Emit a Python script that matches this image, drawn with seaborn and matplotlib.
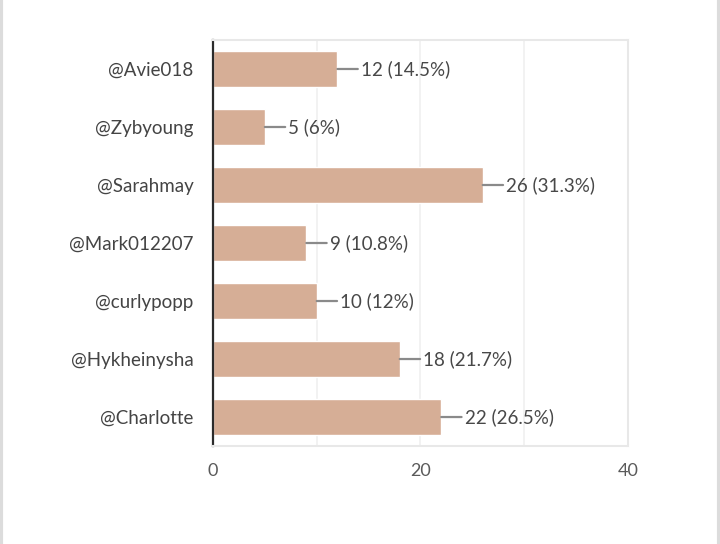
import matplotlib
matplotlib.use("Agg")
import matplotlib.pyplot as plt
import seaborn as sns
import pandas as pd
from matplotlib.lines import Line2D

# data
names = ["@Avie018", "@Zybyoung", "@Sarahmay", "@Mark012207",
         "@curlypopp", "@Hykheinysha", "@Charlotte"]
counts = [12, 5, 26, 9, 10, 18, 22]
pct_labels = ["14.5%", "6%", "31.3%", "10.8%", "12%", "21.7%", "26.5%"]
x_ticks = [0, 20, 40]

df = pd.DataFrame({"name": names, "count": counts})

sns.set_theme(style="white")
plt.rcParams["font.family"] = ["Lato", "DejaVu Sans"]

fig = plt.figure(figsize=(7.2, 5.44), dpi=100)
ax = fig.add_axes([0.2958, 0.1801, 0.5764, 0.7464])

sns.barplot(data=df, x="count", y="name", orient="h", color="#d6ae96",
            saturation=1, width=0.62, ax=ax)

# value labels with a short grey leader line
for i, (c, p) in enumerate(zip(counts, pct_labels)):
    ax.annotate(f"{c} ({p})", xy=(c, i), xytext=(17, 0), textcoords="offset points",
                ha="left", va="center", fontsize=13.5, color="#484848",
                arrowprops=dict(arrowstyle="-", color="#8a8a8a", lw=1.6,
                                shrinkA=0, shrinkB=0, relpos=(0, 0.5)))

ax.set_xlim(0, 40)
ax.set_ylim(6.5, -0.5)
ax.set_xticks(x_ticks)
ax.set_xticks([10, 30], minor=True)
ax.grid(axis="x", which="both", color="#f0f0f0", lw=1.2)
ax.set_axisbelow(True)
ax.set_xlabel("")
ax.set_ylabel("")

for side in ["top", "right", "bottom"]:
    ax.spines[side].set_color("#e8e8e8")
    ax.spines[side].set_linewidth(1.5)
ax.spines["left"].set_color("#2b2b2b")
ax.spines["left"].set_linewidth(1.6)

ax.tick_params(axis="x", which="both", length=0, pad=12, labelsize=13, labelcolor="#5a5a5a")
ax.tick_params(axis="y", length=0, pad=14, labelsize=13.5, labelcolor="#444444")

# thin grey frame on the outer left and right edges
fig.add_artist(Line2D([0.002, 0.002], [0, 1], transform=fig.transFigure, color="#dcdcdc", lw=3))
fig.add_artist(Line2D([0.998, 0.998], [0, 1], transform=fig.transFigure, color="#dcdcdc", lw=3))

fig.savefig("out.png", dpi=100)
